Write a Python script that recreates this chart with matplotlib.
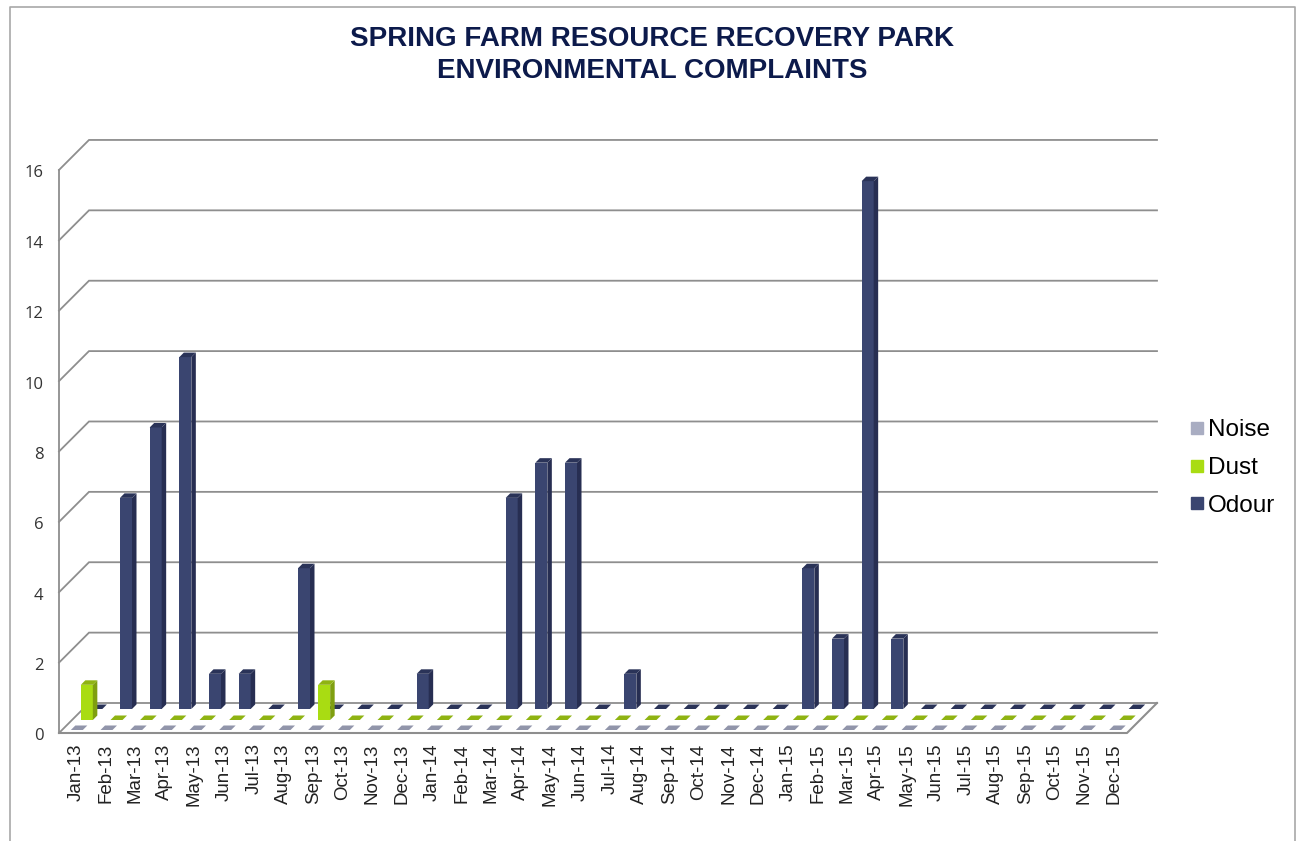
import matplotlib
matplotlib.use('Agg')
import matplotlib.pyplot as plt
from matplotlib.lines import Line2D
from matplotlib.transforms import ScaledTranslation

months = ['Jan', 'Feb', 'Mar', 'Apr', 'May', 'Jun', 'Jul', 'Aug', 'Sep', 'Oct', 'Nov', 'Dec']
categories = [f'{m}-{y}' for y in (13, 14, 15) for m in months]

noise = [0] * 36
dust = [1, 0, 0, 0, 0, 0, 0, 0, 1, 0, 0, 0,
        0, 0, 0, 0, 0, 0, 0, 0, 0, 0, 0, 0,
        0, 0, 0, 0, 0, 0, 0, 0, 0, 0, 0, 0]
odour = [0, 6, 8, 10, 1, 1, 0, 4, 0, 0, 0, 1,
         0, 0, 6, 7, 7, 0, 1, 0, 0, 0, 0, 0,
         4, 2, 15, 2, 0, 0, 0, 0, 0, 0, 0, 0]

W, H = 1297, 841
# frame of the fake 3d box, in pixels of the picture
LEFT, RIGHT, FLOOR = 59, 1127, 733
PX_X = (RIGHT - LEFT) / 36
PX_Y = 35.19
DEPTH = 30


def depth_xy(px):
    # a step into the box moves right and up by the same number of pixels
    return px / PX_X, px / PX_Y


def draw_column(ax, i, value, depth_px, colors, shift=0):
    front, side, top = colors
    bw = 12 / PX_X
    dx, dy = depth_xy(depth_px)
    tx, ty = depth_xy(4.5)
    x0 = i - bw / 2 + dx + shift / PX_X
    x1 = x0 + bw
    y0 = dy
    y1 = value + dy
    if value > 0:
        ax.fill([x0, x1, x1, x0], [y0, y0, y1, y1], color=front, lw=0, zorder=5)
        ax.fill([x1, x1 + tx, x1 + tx, x1], [y0, y0 + ty, y1 + ty, y1], color=side, lw=0, zorder=5)
    ax.fill([x0, x1, x1 + tx, x0 + tx], [y1, y1, y1 + ty, y1 + ty], color=top, lw=0, zorder=5)


plt.rcParams['font.family'] = ['Liberation Sans', 'DejaVu Sans']

fig = plt.figure(figsize=(W / 100, H / 100), dpi=100)
ax = fig.add_axes([LEFT / W, (H - FLOOR) / H, (RIGHT + DEPTH - LEFT) / W, 592 / H])
ax.set_facecolor('none')
ax.set_xlim(-0.5, 35.5 + DEPTH / PX_X)
ax.set_ylim(0, 592 / PX_Y)
for s in ax.spines.values():
    s.set_visible(False)

grid_color = '#8e8e8e'
ddx, ddy = depth_xy(DEPTH)
for v in range(0, 17, 2):
    ax.plot([-0.5, -0.5 + ddx, 35.5 + ddx], [v, v + ddy, v + ddy],
            color=grid_color, lw=1.3, zorder=1, clip_on=False, solid_joinstyle='miter')
ax.plot([-0.5, -0.5], [0, 16], color=grid_color, lw=1.3, zorder=1, clip_on=False)
ax.plot([-0.5, 35.5, 35.5 + ddx], [0, 0, ddy], color=grid_color, lw=1.5, zorder=6, clip_on=False)

odour_colors = ('#3a4570', '#272e52', '#2a3358')
dust_colors = ('#a9dc12', '#7f9f10', '#8fb312')
noise_colors = ('#a9adc2', '#8a8ea3', '#9195aa')
for i, v in enumerate(odour):
    draw_column(ax, i, v, 24, odour_colors, shift=-1.5)
for i, v in enumerate(dust):
    draw_column(ax, i, v, 13, dust_colors)
for i, v in enumerate(noise):
    draw_column(ax, i, v, 3, noise_colors)

ax.set_xticks(range(36))
ax.set_xticklabels(categories, rotation=90, fontsize=13.5, color='#222222')
ax.tick_params(axis='x', length=0, pad=7.5)
label_shift = ScaledTranslation(2 / 100, 0, fig.dpi_scale_trans)
for lab in ax.get_xticklabels():
    lab.set_transform(lab.get_transform() + label_shift)
ax.set_yticks(range(0, 17, 2))
ax.set_yticklabels(range(0, 17, 2), fontsize=12, color='#333333', family=['Open Sans', 'DejaVu Sans'])
ax.tick_params(axis='y', length=0, pad=11)
label_shift_y = ScaledTranslation(0, -1.5 / 100, fig.dpi_scale_trans)
for lab in ax.get_yticklabels():
    lab.set_transform(lab.get_transform() + label_shift_y)

handles = [Line2D([], [], ls='none', marker='s', ms=9, color=c, label=l)
           for c, l in [('#a9adc2', 'Noise'), ('#a9dc12', 'Dust'), ('#3a4570', 'Odour')]]
fig.legend(handles=handles, loc='center left', bbox_to_anchor=(1187 / W, 1 - 468 / H), frameon=False,
           fontsize=17.5, labelspacing=0.64, handlelength=0.8, handletextpad=0.07, borderpad=0, borderaxespad=0)

fig.text(652 / W, 1 - 54.5 / H, 'SPRING FARM RESOURCE RECOVERY PARK\nENVIRONMENTAL COMPLAINTS',
         ha='center', va='center', fontsize=20, fontweight='bold', color='#0c1a4b', linespacing=1.3)

frame = '#a8a8a8'
fig.add_artist(Line2D([10 / W, 10 / W, 1295 / W, 1295 / W], [0, 1 - 7 / H, 1 - 7 / H, 0], color=frame, lw=1.2))

fig.savefig('out.png', dpi=100)
